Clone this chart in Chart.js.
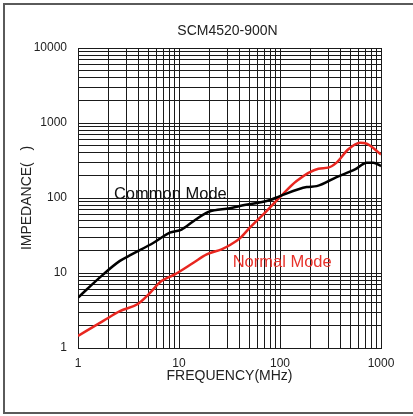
<!DOCTYPE html>
<html>
<head>
<meta charset="utf-8">
<script src="https://cdn.jsdelivr.net/npm/chart.js@4.4.1/dist/chart.umd.min.js"></script>
<style>
  body { margin: 0; background: #fff; }
  canvas { display: block; }
</style>
</head>
<body>
<canvas id="impChart" width="413" height="416"></canvas>
<script>
// curve data (MHz, ohm)
const cmFreq = [1, 1.78, 2.6, 3.4, 5.6, 8.1, 10.6, 13.9, 19.5, 32, 40, 80, 100, 184, 231, 363, 553, 721, 839, 1000];
const cmImp  = [4.7, 9.6, 14.5, 17.7, 25.3, 34.5, 38, 49, 65, 73, 78, 94, 106, 140, 144, 190, 240, 296, 296, 267];
const nmFreq = [1, 1.78, 2.6, 3.95, 5, 6.7, 9.1, 13.9, 18.8, 26.4, 32, 40, 50, 73.6, 100, 146, 240, 300, 363, 475, 620, 721, 1000];
const nmImp  = [1.45, 2.3, 3.1, 3.9, 5.2, 7.8, 9.6, 13.7, 17.7, 20.7, 23.6, 29, 40, 67, 103, 169, 246, 254, 296, 446, 546, 530, 381];

const xTickDecades = [1, 10, 100];
const yTickDecades = [1, 10, 100, 1000];
const chartTitle = "SCM4520-900N";
const cmLabel = { text: "Common Mode", x: 2.27, y: 113 };
const nmLabel = { text: "Normal Mode", x: 34, y: 13.7 };

const fontFam = "'Liberation Sans', Arial, sans-serif";

// 1,2,...,9 for each decade plus the last power of ten
function logTicks(decades) {
  const out = [];
  decades.forEach((d) => {
    for (let i = 1; i <= 9; i++) out.push({ value: i * d });
  });
  out.push({ value: decades[decades.length - 1] * 10 });
  return out;
}

function isPow10(v) {
  const l = Math.log10(v);
  return Math.abs(l - Math.round(l)) < 1e-9;
}

const pts = (xs, ys) => xs.map((x, i) => ({ x: x, y: ys[i] }));

const decorPlugin = {
  id: "decor",
  beforeDraw(chart) {
    const ctx = chart.ctx;
    ctx.save();
    ctx.fillStyle = "#fff";
    ctx.fillRect(0, 0, chart.width, chart.height);
    ctx.strokeStyle = "#5a5a5a";
    ctx.lineWidth = 2;
    ctx.strokeRect(4, 4, chart.width + 10, chart.height - 7);
    ctx.restore();
  },
  afterDraw(chart) {
    const ctx = chart.ctx;
    const xs = chart.scales.x, ys = chart.scales.y;
    ctx.save();
    ctx.textBaseline = "middle";
    ctx.fillStyle = "#222";
    ctx.font = "14px " + fontFam;
    ctx.textAlign = "center";
    ctx.fillText(chartTitle, (chart.chartArea.left + chart.chartArea.right) / 2 - 2, 31);
    ctx.textAlign = "left";
    ctx.font = "16.5px " + fontFam;
    ctx.fillStyle = "#111";
    ctx.fillText(cmLabel.text, xs.getPixelForValue(cmLabel.x), ys.getPixelForValue(cmLabel.y));
    ctx.fillStyle = "#e8322b";
    ctx.fillText(nmLabel.text, xs.getPixelForValue(nmLabel.x), ys.getPixelForValue(nmLabel.y));
    ctx.restore();
  }
};

new Chart(document.getElementById("impChart"), {
  type: "line",
  data: {
    datasets: [
      {
        label: "Common Mode",
        data: pts(cmFreq, cmImp),
        borderColor: "#000",
        borderWidth: 2.5,
        pointRadius: 0,
        cubicInterpolationMode: "monotone",
        fill: false
      },
      {
        label: "Normal Mode",
        data: pts(nmFreq, nmImp),
        borderColor: "#e8261f",
        borderWidth: 2.5,
        pointRadius: 0,
        cubicInterpolationMode: "monotone",
        fill: false
      }
    ]
  },
  options: {
    responsive: false,
    animation: false,
    layout: { padding: { top: 48, right: 32, left: 0, bottom: 0 } },
    plugins: {
      legend: { display: false },
      tooltip: { enabled: false }
    },
    scales: {
      x: {
        type: "logarithmic",
        min: 1,
        max: 1000,
        afterBuildTicks: (s) => { s.ticks = logTicks(xTickDecades); },
        afterFit: (s) => { s.height = 68; },
        grid: { color: "#1a1a1a", lineWidth: 1, drawTicks: false },
        border: { color: "#1a1a1a", width: 1 },
        ticks: {
          autoSkip: false,
          maxRotation: 0,
          padding: 8,
          color: "#222",
          font: { family: fontFam, size: 12 },
          callback: (v) => (isPow10(v) ? String(v) : "")
        },
        title: {
          display: true,
          text: "FREQUENCY(MHz)",
          color: "#222",
          font: { family: fontFam, size: 14 },
          padding: { top: 0, bottom: 31 }
        }
      },
      y: {
        type: "logarithmic",
        min: 1,
        max: 10000,
        afterBuildTicks: (s) => { s.ticks = logTicks(yTickDecades); },
        afterFit: (s) => { s.width = 78; },
        grid: { color: "#1a1a1a", lineWidth: 1, drawTicks: false },
        border: { color: "#1a1a1a", width: 1 },
        ticks: {
          autoSkip: false,
          padding: 11,
          color: "#222",
          font: { family: fontFam, size: 12 },
          callback: (v) => (isPow10(v) ? String(v) : "")
        },
        title: {
          display: true,
          text: "IMPEDANCE(   )",
          color: "#222",
          font: { family: fontFam, size: 14 },
          padding: { top: 19, bottom: 0 }
        }
      }
    }
  },
  plugins: [decorPlugin]
});
</script>
</body>
</html>
